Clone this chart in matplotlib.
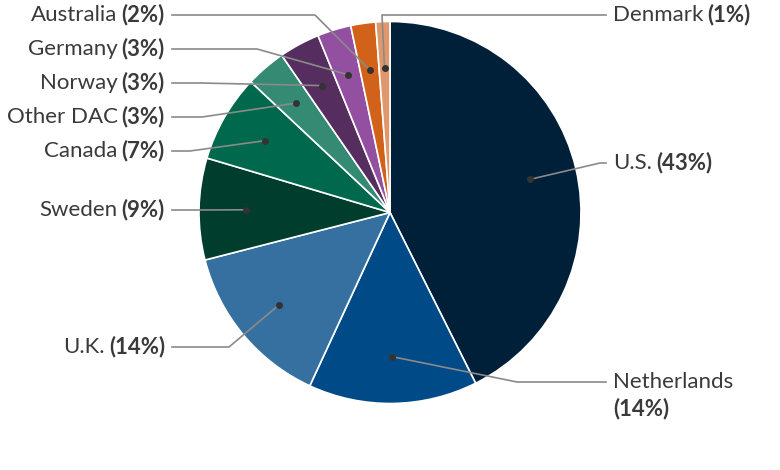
import numpy as np
import matplotlib
matplotlib.use("Agg")
import matplotlib.pyplot as plt

# shares (labels show rounded values)
countries = ["U.S.", "Netherlands", "U.K.", "Sweden", "Canada",
             "Other DAC", "Norway", "Germany", "Australia", "Denmark"]
shares = [42.6, 14.3, 14.1, 8.6, 7.4, 3.4, 3.45, 2.85, 2.1, 1.2]
pct_labels = ["43%", "14%", "14%", "9%", "7%", "3%", "3%", "3%", "2%", "1%"]
colors = ["#001f38", "#004b87", "#3670a0", "#003d2c", "#00684c",
          "#358a74", "#552d5e", "#934fa0", "#d2621a", "#e0986a"]

W, H = 780, 470
fig = plt.figure(figsize=(W / 100, H / 100), dpi=100)
ax = fig.add_axes([0, 0, 1, 1])

cx, cy, R = 390, H - 212.5, 191
wedges, _ = ax.pie(shares, colors=colors, startangle=90, counterclock=False,
                   center=(cx, cy), radius=R, frame=True,
                   wedgeprops=dict(edgecolor="white", linewidth=1.2))
ax.set_xlim(0, W)
ax.set_ylim(0, H)
ax.set_aspect("equal")
ax.axis("off")

# label layout: (text x, text y from top, side, elbow x)
layout = {
    "U.S.": (613, 163, "right", 600),
    "Netherlands": (613, 382, "right", 517),
    "U.K.": (165, 347, "left", 229),
    "Sweden": (165, 210, "left", 200),
    "Canada": (165, 151, "left", 190),
    "Other DAC": (165, 117, "left", 202),
    "Norway": (165, 83, "left", 200),
    "Germany": (165, 49, "left", 257),
    "Australia": (165, 15, "left", 315),
    "Denmark": (613, 15, "right", 382),
}

fs = 16
txt_color = "#3a3a3a"
font = "Lato"
fig.canvas.draw()
renderer = fig.canvas.get_renderer()

for w, name, pct in zip(wedges, countries, pct_labels):
    ang = np.deg2rad((w.theta1 + w.theta2) / 2)
    dx = cx + 0.755 * R * np.cos(ang)
    dy = cy + 0.755 * R * np.sin(ang)
    tx, ty_top, side, ex = layout[name]
    ty = H - ty_top
    if side == "left":
        lx = tx + 7
    else:
        lx = tx - 7
    ax.plot([lx, ex, dx], [ty, ty, dy], color="#8a8a8a", lw=1.2,
            solid_joinstyle="round", zorder=3)
    ax.plot(dx, dy, "o", color="#333333", ms=4, zorder=4)

    if name == "Netherlands":
        ax.text(tx, ty, name, ha="left", va="center", fontsize=fs,
                color=txt_color, family=font)
        ax.text(tx, ty - 27, "(" + pct + ")", ha="left", va="center",
                fontsize=fs, color=txt_color, family=font, fontweight="bold")
        continue
    if side == "left":
        t_pct = ax.text(tx, ty, "(" + pct + ")", ha="right", va="center",
                        fontsize=fs, color=txt_color, family=font,
                        fontweight="bold")
        wp = t_pct.get_window_extent(renderer).width
        ax.text(tx - wp - 4, ty, name, ha="right", va="center", fontsize=fs,
                color=txt_color, family=font)
    else:
        t_name = ax.text(tx, ty, name, ha="left", va="center", fontsize=fs,
                         color=txt_color, family=font)
        wn = t_name.get_window_extent(renderer).width
        ax.text(tx + wn + 4, ty, "(" + pct + ")", ha="left", va="center",
                fontsize=fs, color=txt_color, family=font, fontweight="bold")

fig.savefig("out.png", dpi=100)
